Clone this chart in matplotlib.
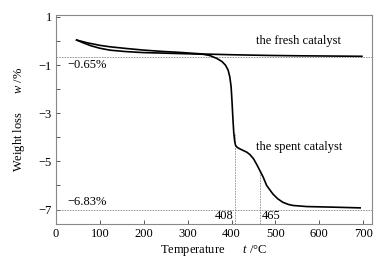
import numpy as np
import matplotlib
matplotlib.use('Agg')
import matplotlib.pyplot as plt

plt.rcParams['font.family'] = ['Liberation Serif', 'DejaVu Serif']
plt.rcParams['mathtext.fontset'] = 'custom'
plt.rcParams['mathtext.it'] = 'Liberation Serif:italic'
plt.rcParams['mathtext.rm'] = 'Liberation Serif'

# ---- data (temperature in degC, weight change in %)
fresh_t = [47, 70, 100, 123, 160, 198, 240, 280, 335, 400, 488, 560, 630, 697]
fresh_w = [0.04, -0.07, -0.18, -0.24, -0.31, -0.375, -0.43, -0.47, -0.54, -0.57, -0.60, -0.615, -0.625, -0.635]

spent_t = [47, 60, 80, 100, 123, 160, 198, 260, 300, 335, 350, 366, 378, 386, 392, 396, 399, 401,
           403, 405, 407, 409, 413, 419, 427, 435, 442, 450, 458, 465, 472, 480, 494, 505, 517,
           530, 540, 571, 631, 693]
spent_w = [0.04, -0.06, -0.2, -0.3, -0.38, -0.44, -0.48, -0.51, -0.53, -0.55, -0.6, -0.72, -0.85,
           -1.0, -1.2, -1.49, -1.9, -2.5, -3.2, -3.8, -4.15, -4.33, -4.42, -4.48, -4.55, -4.62,
           -4.72, -4.89, -5.15, -5.4, -5.65, -6.0, -6.35, -6.55, -6.7, -6.79, -6.83, -6.875,
           -6.9, -6.93]

fresh_level = -0.65
spent_level = -7.0
fresh_label = '\u22120.65%'
spent_label = '\u22126.83%'
onset_t = [408, 465]
onset_w = [-3.8, -5.4]
onset_labels = ['408', '465']

xticks = [0, 100, 200, 300, 400, 500, 600, 700]
yticks = [1, 0, -1, -2, -3, -4, -5, -6, -7]


def ylab(v):
    if v % 2 == 0:
        return ''
    return '\u2212' + str(-v) if v < 0 else str(v)


# ---- figure
fig = plt.figure(figsize=(3.88, 2.62), dpi=100)
ax = fig.add_axes([0.1443, 0.145, 0.8145, 0.7977])

dash = dict(color='#888888', lw=0.6, ls=(0, (2.0, 1.2)))
ax.axhline(fresh_level, **dash)
ax.axhline(spent_level, **dash)
ymin = -7.6
for t, w in zip(onset_t, onset_w):
    ax.plot([t, t], [ymin, w], **dash)

ax.plot(fresh_t, fresh_w, color='black', lw=1.2)
ax.plot(spent_t, spent_w, color='black', lw=1.2)

ax.set_xlim(0, 720)
ax.set_ylim(ymin, 1.08)

fs = 9
ax.set_xticks(xticks)
ax.set_yticks(yticks)
ax.set_yticklabels([ylab(v) for v in yticks])
ax.tick_params(direction='in', length=3, width=0.7, color='#555555', labelsize=fs, pad=3)
for s in ax.spines.values():
    s.set_color('#888888')
    s.set_linewidth(0.8)

ax.set_xlabel('Temperature      $t$ /\u00b0C', fontsize=fs, labelpad=2)
ax.set_ylabel('Weight loss      $w$ /%', fontsize=fs, labelpad=8)

ax.text(25, fresh_level - 0.08, fresh_label, fontsize=fs, va='top', ha='left')
ax.text(25, spent_level + 0.08, spent_label, fontsize=fs, va='bottom', ha='left')
ax.text(455, 0.0, 'the fresh catalyst', fontsize=fs, va='center', ha='left')
ax.text(455, -4.4, 'the spent catalyst', fontsize=fs, va='center', ha='left')
ax.text(onset_t[0] - 4, -7.25, onset_labels[0], fontsize=fs, va='center', ha='right')
ax.text(onset_t[1] + 4, -7.25, onset_labels[1], fontsize=fs, va='center', ha='left')

fig.savefig('out.png', dpi=100)
